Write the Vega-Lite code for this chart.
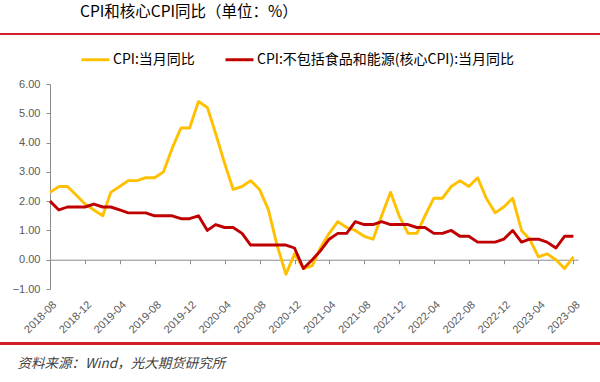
{
  "$schema": "https://vega.github.io/schema/vega-lite/v6.json",
  "autosize": {"type": "none"},
  "width": 528,
  "height": 205,
  "padding": {"left": 50, "top": 84, "right": 22, "bottom": 93},
  "background": "#ffffff",
  "config": {
    "view": {"stroke": null},
    "font": "Noto Sans CJK SC",
    "axis": {"labelOverlap": false, "labelFlush": false, "labelBound": false, "grid": false}
  },
  "title": {
    "text": "CPI和核心CPI同比（单位：%）",
    "anchor": "start",
    "frame": "group",
    "fontSize": 15.5,
    "fontWeight": "normal",
    "color": "#000000",
    "font": "Noto Sans CJK SC",
    "dx": 30,
    "offset": 13
  },
  "resolve": {"axis": {"x": "independent", "y": "independent"}},
  "data": {
    "values": [
      {"date": "2018-08-01", "series": "CPI:当月同比", "value": 2.3},
      {"date": "2018-09-01", "series": "CPI:当月同比", "value": 2.5},
      {"date": "2018-10-01", "series": "CPI:当月同比", "value": 2.5},
      {"date": "2018-11-01", "series": "CPI:当月同比", "value": 2.2},
      {"date": "2018-12-01", "series": "CPI:当月同比", "value": 1.9},
      {"date": "2019-01-01", "series": "CPI:当月同比", "value": 1.7},
      {"date": "2019-02-01", "series": "CPI:当月同比", "value": 1.5},
      {"date": "2019-03-01", "series": "CPI:当月同比", "value": 2.3},
      {"date": "2019-04-01", "series": "CPI:当月同比", "value": 2.5},
      {"date": "2019-05-01", "series": "CPI:当月同比", "value": 2.7},
      {"date": "2019-06-01", "series": "CPI:当月同比", "value": 2.7},
      {"date": "2019-07-01", "series": "CPI:当月同比", "value": 2.8},
      {"date": "2019-08-01", "series": "CPI:当月同比", "value": 2.8},
      {"date": "2019-09-01", "series": "CPI:当月同比", "value": 3.0},
      {"date": "2019-10-01", "series": "CPI:当月同比", "value": 3.8},
      {"date": "2019-11-01", "series": "CPI:当月同比", "value": 4.5},
      {"date": "2019-12-01", "series": "CPI:当月同比", "value": 4.5},
      {"date": "2020-01-01", "series": "CPI:当月同比", "value": 5.4},
      {"date": "2020-02-01", "series": "CPI:当月同比", "value": 5.2},
      {"date": "2020-03-01", "series": "CPI:当月同比", "value": 4.3},
      {"date": "2020-04-01", "series": "CPI:当月同比", "value": 3.3},
      {"date": "2020-05-01", "series": "CPI:当月同比", "value": 2.4},
      {"date": "2020-06-01", "series": "CPI:当月同比", "value": 2.5},
      {"date": "2020-07-01", "series": "CPI:当月同比", "value": 2.7},
      {"date": "2020-08-01", "series": "CPI:当月同比", "value": 2.4},
      {"date": "2020-09-01", "series": "CPI:当月同比", "value": 1.7},
      {"date": "2020-10-01", "series": "CPI:当月同比", "value": 0.5},
      {"date": "2020-11-01", "series": "CPI:当月同比", "value": -0.5},
      {"date": "2020-12-01", "series": "CPI:当月同比", "value": 0.2},
      {"date": "2021-01-01", "series": "CPI:当月同比", "value": -0.3},
      {"date": "2021-02-01", "series": "CPI:当月同比", "value": -0.2},
      {"date": "2021-03-01", "series": "CPI:当月同比", "value": 0.4},
      {"date": "2021-04-01", "series": "CPI:当月同比", "value": 0.9},
      {"date": "2021-05-01", "series": "CPI:当月同比", "value": 1.3},
      {"date": "2021-06-01", "series": "CPI:当月同比", "value": 1.1},
      {"date": "2021-07-01", "series": "CPI:当月同比", "value": 1.0},
      {"date": "2021-08-01", "series": "CPI:当月同比", "value": 0.8},
      {"date": "2021-09-01", "series": "CPI:当月同比", "value": 0.7},
      {"date": "2021-10-01", "series": "CPI:当月同比", "value": 1.5},
      {"date": "2021-11-01", "series": "CPI:当月同比", "value": 2.3},
      {"date": "2021-12-01", "series": "CPI:当月同比", "value": 1.5},
      {"date": "2022-01-01", "series": "CPI:当月同比", "value": 0.9},
      {"date": "2022-02-01", "series": "CPI:当月同比", "value": 0.9},
      {"date": "2022-03-01", "series": "CPI:当月同比", "value": 1.5},
      {"date": "2022-04-01", "series": "CPI:当月同比", "value": 2.1},
      {"date": "2022-05-01", "series": "CPI:当月同比", "value": 2.1},
      {"date": "2022-06-01", "series": "CPI:当月同比", "value": 2.5},
      {"date": "2022-07-01", "series": "CPI:当月同比", "value": 2.7},
      {"date": "2022-08-01", "series": "CPI:当月同比", "value": 2.5},
      {"date": "2022-09-01", "series": "CPI:当月同比", "value": 2.8},
      {"date": "2022-10-01", "series": "CPI:当月同比", "value": 2.1},
      {"date": "2022-11-01", "series": "CPI:当月同比", "value": 1.6},
      {"date": "2022-12-01", "series": "CPI:当月同比", "value": 1.8},
      {"date": "2023-01-01", "series": "CPI:当月同比", "value": 2.1},
      {"date": "2023-02-01", "series": "CPI:当月同比", "value": 1.0},
      {"date": "2023-03-01", "series": "CPI:当月同比", "value": 0.7},
      {"date": "2023-04-01", "series": "CPI:当月同比", "value": 0.1},
      {"date": "2023-05-01", "series": "CPI:当月同比", "value": 0.2},
      {"date": "2023-06-01", "series": "CPI:当月同比", "value": 0.0},
      {"date": "2023-07-01", "series": "CPI:当月同比", "value": -0.3},
      {"date": "2023-08-01", "series": "CPI:当月同比", "value": 0.1},
      {"date": "2018-08-01", "series": "CPI:不包括食品和能源(核心CPI):当月同比", "value": 2.0},
      {"date": "2018-09-01", "series": "CPI:不包括食品和能源(核心CPI):当月同比", "value": 1.7},
      {"date": "2018-10-01", "series": "CPI:不包括食品和能源(核心CPI):当月同比", "value": 1.8},
      {"date": "2018-11-01", "series": "CPI:不包括食品和能源(核心CPI):当月同比", "value": 1.8},
      {"date": "2018-12-01", "series": "CPI:不包括食品和能源(核心CPI):当月同比", "value": 1.8},
      {"date": "2019-01-01", "series": "CPI:不包括食品和能源(核心CPI):当月同比", "value": 1.9},
      {"date": "2019-02-01", "series": "CPI:不包括食品和能源(核心CPI):当月同比", "value": 1.8},
      {"date": "2019-03-01", "series": "CPI:不包括食品和能源(核心CPI):当月同比", "value": 1.8},
      {"date": "2019-04-01", "series": "CPI:不包括食品和能源(核心CPI):当月同比", "value": 1.7},
      {"date": "2019-05-01", "series": "CPI:不包括食品和能源(核心CPI):当月同比", "value": 1.6},
      {"date": "2019-06-01", "series": "CPI:不包括食品和能源(核心CPI):当月同比", "value": 1.6},
      {"date": "2019-07-01", "series": "CPI:不包括食品和能源(核心CPI):当月同比", "value": 1.6},
      {"date": "2019-08-01", "series": "CPI:不包括食品和能源(核心CPI):当月同比", "value": 1.5},
      {"date": "2019-09-01", "series": "CPI:不包括食品和能源(核心CPI):当月同比", "value": 1.5},
      {"date": "2019-10-01", "series": "CPI:不包括食品和能源(核心CPI):当月同比", "value": 1.5},
      {"date": "2019-11-01", "series": "CPI:不包括食品和能源(核心CPI):当月同比", "value": 1.4},
      {"date": "2019-12-01", "series": "CPI:不包括食品和能源(核心CPI):当月同比", "value": 1.4},
      {"date": "2020-01-01", "series": "CPI:不包括食品和能源(核心CPI):当月同比", "value": 1.5},
      {"date": "2020-02-01", "series": "CPI:不包括食品和能源(核心CPI):当月同比", "value": 1.0},
      {"date": "2020-03-01", "series": "CPI:不包括食品和能源(核心CPI):当月同比", "value": 1.2},
      {"date": "2020-04-01", "series": "CPI:不包括食品和能源(核心CPI):当月同比", "value": 1.1},
      {"date": "2020-05-01", "series": "CPI:不包括食品和能源(核心CPI):当月同比", "value": 1.1},
      {"date": "2020-06-01", "series": "CPI:不包括食品和能源(核心CPI):当月同比", "value": 0.9},
      {"date": "2020-07-01", "series": "CPI:不包括食品和能源(核心CPI):当月同比", "value": 0.5},
      {"date": "2020-08-01", "series": "CPI:不包括食品和能源(核心CPI):当月同比", "value": 0.5},
      {"date": "2020-09-01", "series": "CPI:不包括食品和能源(核心CPI):当月同比", "value": 0.5},
      {"date": "2020-10-01", "series": "CPI:不包括食品和能源(核心CPI):当月同比", "value": 0.5},
      {"date": "2020-11-01", "series": "CPI:不包括食品和能源(核心CPI):当月同比", "value": 0.5},
      {"date": "2020-12-01", "series": "CPI:不包括食品和能源(核心CPI):当月同比", "value": 0.4},
      {"date": "2021-01-01", "series": "CPI:不包括食品和能源(核心CPI):当月同比", "value": -0.3},
      {"date": "2021-02-01", "series": "CPI:不包括食品和能源(核心CPI):当月同比", "value": 0.0},
      {"date": "2021-03-01", "series": "CPI:不包括食品和能源(核心CPI):当月同比", "value": 0.3},
      {"date": "2021-04-01", "series": "CPI:不包括食品和能源(核心CPI):当月同比", "value": 0.7},
      {"date": "2021-05-01", "series": "CPI:不包括食品和能源(核心CPI):当月同比", "value": 0.9},
      {"date": "2021-06-01", "series": "CPI:不包括食品和能源(核心CPI):当月同比", "value": 0.9},
      {"date": "2021-07-01", "series": "CPI:不包括食品和能源(核心CPI):当月同比", "value": 1.3},
      {"date": "2021-08-01", "series": "CPI:不包括食品和能源(核心CPI):当月同比", "value": 1.2},
      {"date": "2021-09-01", "series": "CPI:不包括食品和能源(核心CPI):当月同比", "value": 1.2},
      {"date": "2021-10-01", "series": "CPI:不包括食品和能源(核心CPI):当月同比", "value": 1.3},
      {"date": "2021-11-01", "series": "CPI:不包括食品和能源(核心CPI):当月同比", "value": 1.2},
      {"date": "2021-12-01", "series": "CPI:不包括食品和能源(核心CPI):当月同比", "value": 1.2},
      {"date": "2022-01-01", "series": "CPI:不包括食品和能源(核心CPI):当月同比", "value": 1.2},
      {"date": "2022-02-01", "series": "CPI:不包括食品和能源(核心CPI):当月同比", "value": 1.1},
      {"date": "2022-03-01", "series": "CPI:不包括食品和能源(核心CPI):当月同比", "value": 1.1},
      {"date": "2022-04-01", "series": "CPI:不包括食品和能源(核心CPI):当月同比", "value": 0.9},
      {"date": "2022-05-01", "series": "CPI:不包括食品和能源(核心CPI):当月同比", "value": 0.9},
      {"date": "2022-06-01", "series": "CPI:不包括食品和能源(核心CPI):当月同比", "value": 1.0},
      {"date": "2022-07-01", "series": "CPI:不包括食品和能源(核心CPI):当月同比", "value": 0.8},
      {"date": "2022-08-01", "series": "CPI:不包括食品和能源(核心CPI):当月同比", "value": 0.8},
      {"date": "2022-09-01", "series": "CPI:不包括食品和能源(核心CPI):当月同比", "value": 0.6},
      {"date": "2022-10-01", "series": "CPI:不包括食品和能源(核心CPI):当月同比", "value": 0.6},
      {"date": "2022-11-01", "series": "CPI:不包括食品和能源(核心CPI):当月同比", "value": 0.6},
      {"date": "2022-12-01", "series": "CPI:不包括食品和能源(核心CPI):当月同比", "value": 0.7},
      {"date": "2023-01-01", "series": "CPI:不包括食品和能源(核心CPI):当月同比", "value": 1.0},
      {"date": "2023-02-01", "series": "CPI:不包括食品和能源(核心CPI):当月同比", "value": 0.6},
      {"date": "2023-03-01", "series": "CPI:不包括食品和能源(核心CPI):当月同比", "value": 0.7},
      {"date": "2023-04-01", "series": "CPI:不包括食品和能源(核心CPI):当月同比", "value": 0.7},
      {"date": "2023-05-01", "series": "CPI:不包括食品和能源(核心CPI):当月同比", "value": 0.6},
      {"date": "2023-06-01", "series": "CPI:不包括食品和能源(核心CPI):当月同比", "value": 0.4},
      {"date": "2023-07-01", "series": "CPI:不包括食品和能源(核心CPI):当月同比", "value": 0.8},
      {"date": "2023-08-01", "series": "CPI:不包括食品和能源(核心CPI):当月同比", "value": 0.8}
    ]
  },
  "layer": [
    {
      "mark": {"type": "line", "strokeWidth": 2.9, "strokeJoin": "round"},
      "encoding": {
        "x": {
          "field": "date",
          "type": "temporal",
          "scale": {
            "type": "utc",
            "domain": [
              {"year": 2018, "month": 8, "date": 1, "utc": true},
              {"year": 2023, "month": 8, "date": 17, "utc": true}
            ]
          },
          "axis": {
            "values": [
              {"year": 2018, "month": 8, "date": 1, "utc": true},
              {"year": 2018, "month": 12, "date": 1, "utc": true},
              {"year": 2019, "month": 4, "date": 1, "utc": true},
              {"year": 2019, "month": 8, "date": 1, "utc": true},
              {"year": 2019, "month": 12, "date": 1, "utc": true},
              {"year": 2020, "month": 4, "date": 1, "utc": true},
              {"year": 2020, "month": 8, "date": 1, "utc": true},
              {"year": 2020, "month": 12, "date": 1, "utc": true},
              {"year": 2021, "month": 4, "date": 1, "utc": true},
              {"year": 2021, "month": 8, "date": 1, "utc": true},
              {"year": 2021, "month": 12, "date": 1, "utc": true},
              {"year": 2022, "month": 4, "date": 1, "utc": true},
              {"year": 2022, "month": 8, "date": 1, "utc": true},
              {"year": 2022, "month": 12, "date": 1, "utc": true},
              {"year": 2023, "month": 4, "date": 1, "utc": true},
              {"year": 2023, "month": 8, "date": 1, "utc": true}
            ],
            "format": "%Y-%m",
            "offset": -29.29,
            "domainColor": "#8c8c8c",
            "domainWidth": 1,
            "tickColor": "#8c8c8c",
            "tickSize": 4,
            "labelAngle": -45,
            "labelAlign": "right",
            "labelBaseline": "middle",
            "labelPadding": 39,
            "labelOffset": 4.5,
            "labelFontSize": 11,
            "labelColor": "#595959",
            "labelFont": "Liberation Sans",
            "labelOverlap": false,
            "title": "资料来源：Wind，光大期货研究所",
            "titleFont": "Noto Sans CJK SC",
            "titleFontStyle": "italic",
            "titleFontWeight": "normal",
            "titleFontSize": 13.5,
            "titleColor": "#404040",
            "titleAnchor": "start",
            "titleAlign": "left",
            "titleBaseline": "middle",
            "titleX": -33,
            "titleY": 104
          }
        },
        "y": {
          "field": "value",
          "type": "quantitative",
          "scale": {"domain": [-1, 6], "nice": false, "zero": false},
          "axis": {
            "values": [-1, 0, 1, 2, 3, 4, 5, 6],
            "format": ".2f",
            "title": null,
            "domainColor": "#8c8c8c",
            "tickColor": "#8c8c8c",
            "tickSize": 4,
            "labelPadding": 6,
            "labelFontSize": 11,
            "labelColor": "#595959",
            "labelFont": "Liberation Sans",
            "labelOverlap": false
          }
        },
        "color": {
          "field": "series",
          "type": "nominal",
          "sort": ["CPI:当月同比", "CPI:不包括食品和能源(核心CPI):当月同比"],
          "scale": {
            "domain": ["CPI:当月同比", "CPI:不包括食品和能源(核心CPI):当月同比"],
            "range": ["#FFC000", "#C00000"]
          },
          "legend": {
            "title": null,
            "orient": "none",
            "legendX": 30,
            "legendY": -40,
            "direction": "horizontal",
            "symbolType": "stroke",
            "symbolSize": 784,
            "symbolStrokeWidth": 3,
            "labelFontSize": 14,
            "labelColor": "#000000",
            "labelFont": "Noto Sans CJK SC",
            "labelOffset": 2,
            "columnPadding": 24,
            "labelLimit": 400
          }
        }
      }
    },
    {
      "mark": {"type": "rule", "color": "#D0202A", "strokeWidth": 1.5, "clip": false},
      "encoding": {
        "x": {"datum": {"year": 2017, "month": 11, "date": 1, "utc": true}, "type": "temporal", "axis": null},
        "x2": {"datum": {"year": 2024, "month": 2, "date": 1, "utc": true}},
        "y": {"datum": 7.70, "type": "quantitative", "axis": null}
      }
    },
    {
      "mark": {"type": "rule", "color": "#D0202A", "strokeWidth": 1.5, "clip": false},
      "encoding": {
        "x": {"datum": {"year": 2017, "month": 11, "date": 1, "utc": true}, "type": "temporal", "axis": null},
        "x2": {"datum": {"year": 2024, "month": 2, "date": 1, "utc": true}},
        "y": {"datum": -2.86, "type": "quantitative", "axis": null}
      }
    }
  ]
}
